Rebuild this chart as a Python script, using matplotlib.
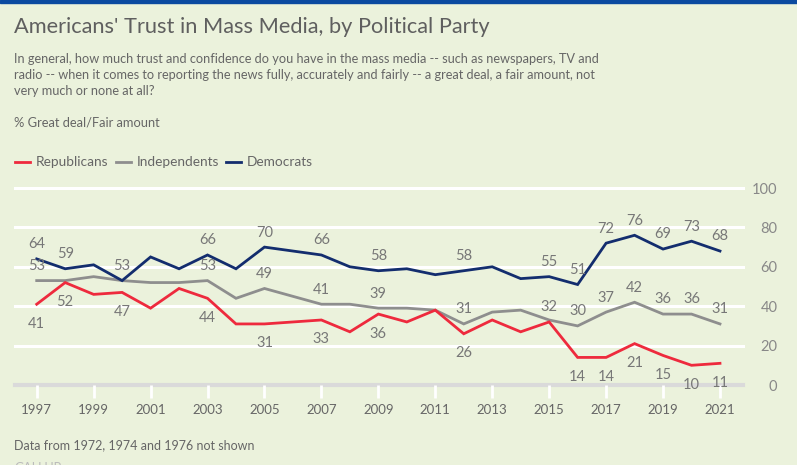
import matplotlib
matplotlib.use("Agg")
import matplotlib.pyplot as plt
from matplotlib.lines import Line2D

years = [1997, 1998, 1999, 2000, 2001, 2002, 2003, 2004, 2005, 2007, 2008, 2009,
         2010, 2011, 2012, 2013, 2014, 2015, 2016, 2017, 2018, 2019, 2020, 2021]
democrats = [64, 59, 61, 53, 65, 59, 66, 59, 70, 66, 60, 58,
             59, 56, 58, 60, 54, 55, 51, 72, 76, 69, 73, 68]
independents = [53, 53, 55, 53, 52, 52, 53, 44, 49, 41, 41, 39,
                39, 38, 31, 37, 38, 33, 30, 37, 42, 36, 36, 31]
republicans = [41, 52, 46, 47, 39, 49, 44, 31, 31, 33, 27, 36,
               32, 38, 26, 33, 27, 32, 14, 14, 21, 15, 10, 11]

# labelled years and placement (above / below)
dem_labels = [1997, 1998, 2000, 2003, 2005, 2007, 2009, 2012, 2015, 2016, 2017, 2018, 2019, 2020, 2021]
ind_labels = [1997, 2003, 2005, 2007, 2009, 2012, 2016, 2017, 2018, 2019, 2020, 2021]
rep_labels_below = [1997, 1998, 2000, 2003, 2005, 2007, 2009, 2012, 2016, 2017, 2018, 2019, 2020, 2021]
rep_labels_above = [2015]

xticks = list(range(1997, 2022, 2))
yticks = [0, 20, 40, 60, 80, 100]

title = "Americans' Trust in Mass Media, by Political Party"
subtitle = ("In general, how much trust and confidence do you have in the mass media -- such as newspapers, TV and\n"
            "radio -- when it comes to reporting the news fully, accurately and fairly -- a great deal, a fair amount, not\n"
            "very much or none at all?")
ylabel_note = "% Great deal/Fair amount"
footnote = "Data from 1972, 1974 and 1976 not shown"

BG = "#ebf2dc"
RED = "#ee2a3d"
GRAY = "#8e8e8e"
BLUE = "#132d6e"
TXT = "#666666"
LBL = "#777777"

plt.rcParams['font.family'] = ['Lato', 'DejaVu Sans']

W, H = 797, 465
fig = plt.figure(figsize=(W / 100, H / 100), dpi=100, facecolor=BG)

# top blue bar
fig.add_artist(plt.Rectangle((0, 1 - 3 / H), 1, 3 / H, transform=fig.transFigure,
                             color="#0b4aa0", zorder=10))

left_px, right_px = 14.7, 742.7
bottom_px, top_px = 385, 188
ax = fig.add_axes([left_px / W, (H - bottom_px) / H, (right_px - left_px) / W, (bottom_px - top_px) / H])
ax.set_facecolor(BG)
x0 = 1997 - (36.7 - left_px) / 28.47
x1 = 1997 + (right_px - 36.7) / 28.47
ax.set_xlim(x0, x1)
ax.set_ylim(0, 100)
for s in ax.spines.values():
    s.set_visible(False)

for y in yticks[1:]:
    ax.axhline(y, color="white", lw=2.2, zorder=1, clip_on=False)
ax.axhline(0, color="#dadada", lw=3, zorder=1, clip_on=False)

ax.set_xticks(xticks)
ax.set_xticklabels([str(x) for x in xticks], fontsize=9.5, color=TXT)
ax.tick_params(axis='x', length=9, width=2, color="white", pad=5)
ax.set_yticks(yticks)
ax.yaxis.tick_right()
ax.set_yticklabels([str(y) for y in yticks], fontsize=10.5, color="#888888")
for lbl in ax.get_yticklabels():
    lbl.set_horizontalalignment('right')
ax.tick_params(axis='y', length=0, pad=25)

ax.plot(years, independents, color=GRAY, lw=2, zorder=3, solid_joinstyle='miter')
ax.plot(years, republicans, color=RED, lw=2, zorder=4, solid_joinstyle='miter')
ax.plot(years, democrats, color=BLUE, lw=2, zorder=5, solid_joinstyle='miter')

def label(series, yrs, dy):
    for yr in yrs:
        v = series[years.index(yr)]
        ax.annotate(str(v), (yr, v), xytext=(0, dy), textcoords='offset points',
                    ha='center', va='center', fontsize=10.5, color=LBL, zorder=6)

label(democrats, dem_labels, 10.5)
label(independents, ind_labels, 10.5)
label(republicans, rep_labels_below, -14)
label(republicans, rep_labels_above, 10.5)

# texts
def ft(x, y, s, **kw):
    fig.text(x / W, 1 - y / H, s, **kw)

ft(14, 27, title, fontsize=15.7, color="#5f5f5f", va='center', ha='left')
ft(14, 75, subtitle, fontsize=9.2, color=TXT, va='center', ha='left', linespacing=1.4)
ft(14, 122, ylabel_note, fontsize=9.3, color=TXT, va='center', ha='left')

legend_items = [("Republicans", RED, 15), ("Independents", GRAY, 116), ("Democrats", BLUE, 226)]
for name, col, x in legend_items:
    fig.add_artist(Line2D([x / W, (x + 15) / W], [1 - 162 / H, 1 - 162 / H],
                          transform=fig.transFigure, color=col, lw=2))
    ft(x + 21, 162, name, fontsize=9.8, color=TXT, va='center', ha='left')

ft(14, 445, footnote, fontsize=9, color=TXT, va='center', ha='left')
ft(14, 468, "GALLUP", fontsize=9, color="#bbbbbb", va='center', ha='left')

fig.savefig("out.png", dpi=100, facecolor=BG)
